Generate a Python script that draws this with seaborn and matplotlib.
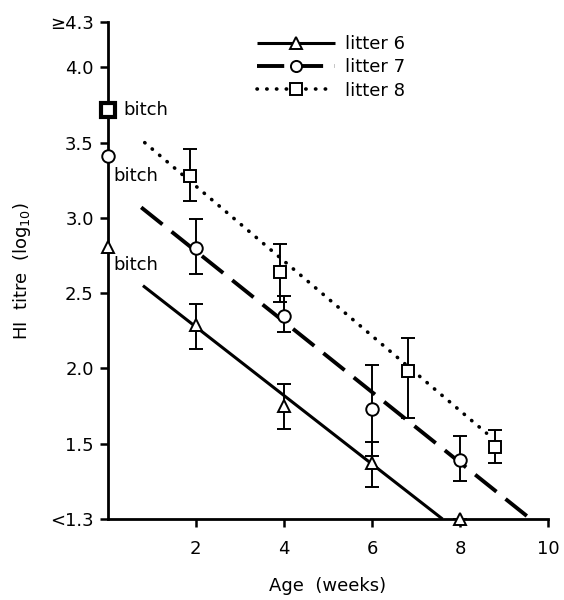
import matplotlib
matplotlib.use("Agg")
import matplotlib.pyplot as plt
from matplotlib.lines import Line2D
import seaborn as sns
import numpy as np
import pandas as pd

# ---- data ----
litters = ["litter 6", "litter 7", "litter 8"]
# mean titres per litter (log10); "<1.3" is placed at 1.0 on the axis
weeks_6 = [2, 4, 6, 8]
titre_6 = [2.29, 1.75, 1.37, 1.0]
err_lo_6 = [2.13, 1.60, 1.21, 1.0]
err_hi_6 = [2.43, 1.90, 1.51, 1.0]

weeks_7 = [2, 4, 6, 8]
titre_7 = [2.80, 2.35, 1.73, 1.39]
err_lo_7 = [2.63, 2.24, 1.42, 1.25]
err_hi_7 = [2.99, 2.48, 2.02, 1.55]

weeks_8 = [1.86, 3.9, 6.82, 8.8]
titre_8 = [3.28, 2.64, 1.98, 1.48]
err_lo_8 = [3.11, 2.44, 1.67, 1.37]
err_hi_8 = [3.46, 2.83, 2.20, 1.59]

# bitch titres at week 0
bitch_titre = [2.81, 3.41, 3.72]

# fitted regression line endpoints
fit_x = [[0.8, 7.6], [0.76, 9.6], [0.84, 8.6]]
fit_y = [[2.55, 1.0], [3.07, 1.0], [3.50, 1.57]]

ytick_vals = [1.0, 1.5, 2.0, 2.5, 3.0, 3.5, 4.0, 4.3]
ytick_labels = ["<1.3", "1.5", "2.0", "2.5", "3.0", "3.5", "4.0", "\u22654.3"]
xtick_vals = [2, 4, 6, 8, 10]

# ---- style ----
sns.set_style("ticks")
plt.rcParams["font.family"] = ["DejaVu Sans"]
plt.rcParams["text.color"] = "black"
plt.rcParams["axes.labelcolor"] = "black"
plt.rcParams["xtick.color"] = "black"
plt.rcParams["ytick.color"] = "black"

fig = plt.figure(figsize=(5.64, 6.0), dpi=100)
ax = fig.add_axes([0.191, 0.135, 0.781, 0.828])

markers = ["^", "o", "s"]
styles = [(0, ()), (0, (7, 3)), (0, (0.1, 2.6))]
lws = [2.2, 2.8, 2.6]

weeks = [weeks_6, weeks_7, weeks_8]
titres = [titre_6, titre_7, titre_8]
los = [err_lo_6, err_lo_7, err_lo_8]
his = [err_hi_6, err_hi_7, err_hi_8]

handles = []
for i, name in enumerate(litters):
    df = pd.DataFrame({"x": fit_x[i], "y": fit_y[i]})
    sns.lineplot(data=df, x="x", y="y", ax=ax, color="black", lw=lws[i],
                 linestyle=styles[i], solid_capstyle="butt",
                 dash_capstyle="round" if i == 2 else "butt")
    t = np.array(titres[i])
    yerr = np.vstack([t - np.array(los[i]), np.array(his[i]) - t])
    ax.errorbar(weeks[i], t, yerr=yerr, fmt="none", ecolor="black",
                elinewidth=1.4, capsize=5, capthick=1.4, zorder=3)
    ax.plot(weeks[i], t, linestyle="none", marker=markers[i], ms=9,
            mfc="white", mec="black", mew=1.4, zorder=4, clip_on=False)
    handles.append(Line2D([0], [0], color="black", lw=lws[i], linestyle=styles[i],
                          dash_capstyle="round" if i == 2 else "butt",
                          marker=markers[i], ms=8, mfc="white", mec="black", mew=1.4))

# bitch points
for i in range(3):
    ax.plot([0], [bitch_titre[i]], linestyle="none", marker=markers[i], ms=9 if i < 2 else 10,
            mfc="white", mec="black", mew=1.4 if i < 2 else 3.0, zorder=5, clip_on=False)
ax.text(0.35, bitch_titre[2], "bitch", fontsize=13, va="center", ha="left")
ax.text(0.12, bitch_titre[1] - 0.13, "bitch", fontsize=13, va="center", ha="left")
ax.text(0.12, bitch_titre[0] - 0.12, "bitch", fontsize=13, va="center", ha="left")

ax.legend(handles, litters, loc="upper left", bbox_to_anchor=(0.31, 1.0),
          frameon=False, handlelength=4.3, fontsize=13, labelspacing=0.3,
          handletextpad=0.6, borderaxespad=0.3)

ax.set_xlim(0, 10)
ax.set_ylim(1.0, 4.3)
ax.set_xticks(xtick_vals)
ax.set_xticklabels([str(v) for v in xtick_vals])
ax.set_yticks(ytick_vals)
ax.set_yticklabels(ytick_labels)
ax.tick_params(axis="both", labelsize=13, width=1.8, length=6, color="black")
ax.tick_params(axis="x", pad=9)
ax.tick_params(axis="y", pad=4)
ax.set_xlabel("Age  (weeks)", fontsize=13, labelpad=14)
ax.set_ylabel("HI  titre  (log$_{10}$)", fontsize=13, labelpad=12)
for s in ["top", "right"]:
    ax.spines[s].set_visible(False)
for s in ["left", "bottom"]:
    ax.spines[s].set_linewidth(2.0)
    ax.spines[s].set_color("black")

fig.savefig("out.png", dpi=100)
